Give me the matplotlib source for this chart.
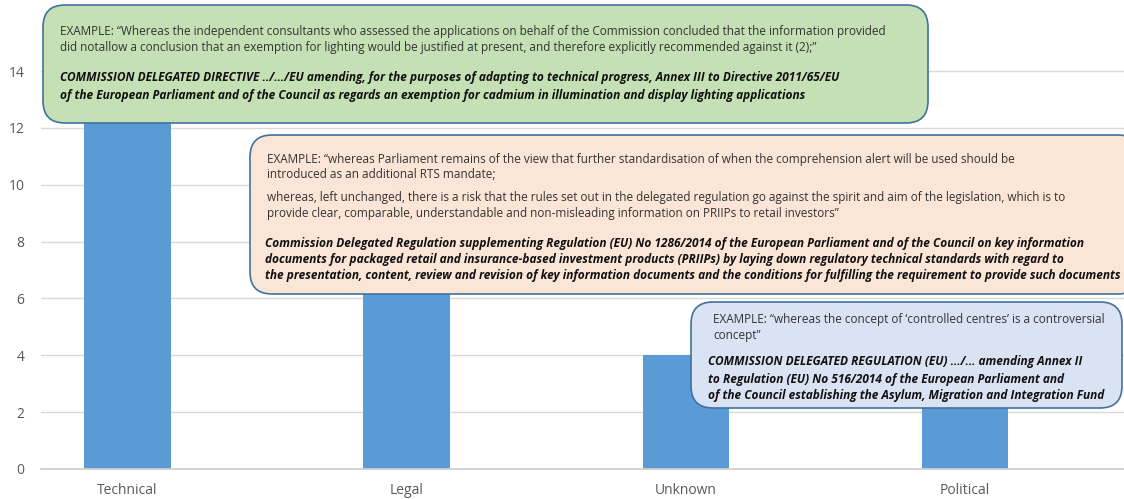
import matplotlib
matplotlib.use("Agg")
import matplotlib.pyplot as plt
from matplotlib.patches import FancyBboxPatch
from matplotlib.transforms import IdentityTransform

categories = ["Technical", "Legal", "Unknown", "Political"]
values = [15, 7, 4, 3]
yticks = [0, 2, 4, 6, 8, 10, 12, 14]

W, H = 1124, 499
fig = plt.figure(figsize=(W / 100, H / 100), dpi=100)
ax = fig.add_axes([41 / W, 1 - 469 / H, 1 - 41 / W, 469 / H])
x = list(range(len(categories)))
ax.bar(x, values, width=0.31, color="#5B9BD5", zorder=2)
ax.set_xlim(-0.31, 3.57)
ax.set_ylim(0, 16.5)
ax.set_yticks(yticks)
ax.set_xticks(x)
ax.set_xticklabels(categories)
ax.grid(axis="y", color="#D9D9D9", linewidth=1, zorder=0)
for s in ax.spines.values():
    s.set_visible(False)
ax.spines["bottom"].set_visible(True)
ax.spines["bottom"].set_color("#D0D0D0")
ax.spines["bottom"].set_linewidth(1.3)
ax.tick_params(length=0, colors="#595959", labelsize=10)
ax.tick_params(axis="y", pad=12)
ax.tick_params(axis="x", pad=10)
for lab in ax.get_xticklabels() + ax.get_yticklabels():
    lab.set_fontfamily("Open Sans")

tr = IdentityTransform()

def box(x0, y0, x1, y1, fc):
    p = FancyBboxPatch((x0, H - y1), x1 - x0, y1 - y0,
                       boxstyle="round,pad=0,rounding_size=22",
                       fc=fc, ec="#41719C", lw=1.2, transform=tr, zorder=5)
    fig.patches.append(p)

def txt(x0, y0, s, bold=False):
    fig.text(x0, H - y0, s, transform=tr, fontsize=8.6 if bold else 8.5,
             va="center", ha="left",
             family="Open Sans", color="#333333" if not bold else "#111111",
             fontweight="bold" if bold else "normal",
             style="italic" if bold else "normal", zorder=6)

# Green box
box(43, 5, 928, 123, "#C5E0B4")
txt(60, 31, "EXAMPLE: \u201cWhereas the independent consultants who assessed the applications on behalf of the Commission concluded that the information provided")
txt(60, 47, "did notallow a conclusion that an exemption for lighting would be justified at present, and therefore explicitly recommended against it (2);\u201d")
txt(60, 78, "COMMISSION DELEGATED DIRECTIVE ../\u2026/EU amending, for the purposes of adapting to technical progress, Annex III to Directive 2011/65/EU", True)
txt(60, 95, "of the European Parliament and of the Council as regards an exemption for cadmium in illumination and display lighting applications", True)

# Peach box
box(250, 135, 1140, 294, "#FBE5D6")
txt(267, 159, "EXAMPLE: \u201cwhereas Parliament remains of the view that further standardisation of when the comprehension alert will be used should be")
txt(267, 175, "introduced as an additional RTS mandate;")
txt(267, 198, "whereas, left unchanged, there is a risk that the rules set out in the delegated regulation go against the spirit and aim of the legislation, which is to")
txt(267, 214, "provide clear, comparable, understandable and non-misleading information on PRIIPs to retail investors\u201d")
txt(265, 243, "Commission Delegated Regulation supplementing Regulation (EU) No 1286/2014 of the European Parliament and of the Council on key information", True)
txt(265, 259, "documents for packaged retail and insurance-based investment products (PRIIPs) by laying down regulatory technical standards with regard to", True)
txt(265, 275, "the presentation, content, review and revision of key information documents and the conditions for fulfilling the requirement to provide such documents", True)

# Blue box
box(691, 302, 1122, 408, "#DAE3F3")
txt(713, 320, "EXAMPLE: \u201cwhereas the concept of \u2018controlled centres\u2019 is a controversial")
txt(713, 336, "concept\u201d")
txt(708, 362, "COMMISSION DELEGATED REGULATION (EU) \u2026/\u2026 amending Annex II", True)
txt(708, 379, "to Regulation (EU) No 516/2014 of the European Parliament and", True)
txt(708, 395, "of the Council establishing the Asylum, Migration and Integration Fund", True)

fig.savefig("out.png", dpi=100)
